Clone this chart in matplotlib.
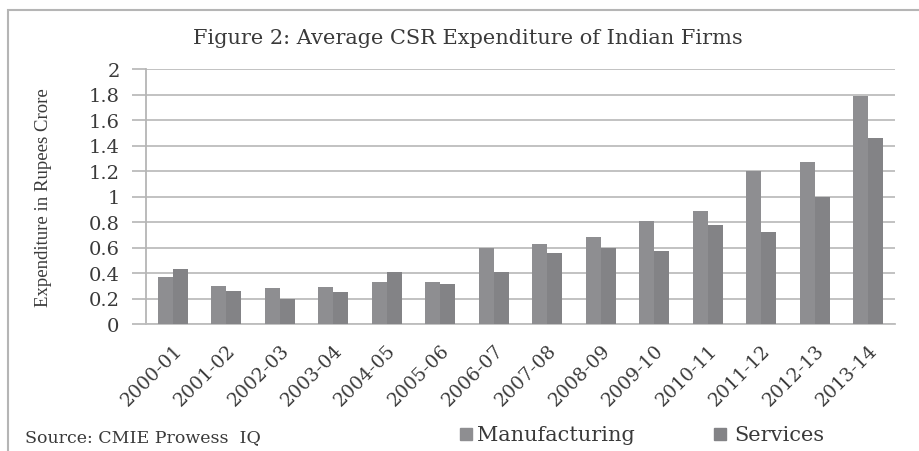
import numpy as np
import matplotlib
matplotlib.use('Agg')
import matplotlib.pyplot as plt
import matplotlib.patches as plp

years = ['2000-01', '2001-02', '2002-03', '2003-04', '2004-05', '2005-06', '2006-07',
         '2007-08', '2008-09', '2009-10', '2010-11', '2011-12', '2012-13', '2013-14']
manufacturing = [0.37, 0.30, 0.28, 0.29, 0.33, 0.33, 0.60, 0.63, 0.68, 0.81, 0.89, 1.20, 1.27, 1.79]
services = [0.43, 0.26, 0.20, 0.25, 0.41, 0.31, 0.41, 0.56, 0.60, 0.57, 0.78, 0.72, 1.00, 1.46]
yticks = [0, 0.2, 0.4, 0.6, 0.8, 1, 1.2, 1.4, 1.6, 1.8, 2]
yticklabels = ['0', '0.2', '0.4', '0.6', '0.8', '1', '1.2', '1.4', '1.6', '1.8', '2']

plt.rcParams['font.family'] = ['DejaVu Serif']
textColor = '#3a3a3a'
colM = '#8e8e91'
colS = '#838386'

fig = plt.figure(figsize=(9.2, 4.52), dpi=100)
W, H = 920.0, 452.0
# axes: x 146..895, y 70..325 (pixels from top)
ax = fig.add_axes([146 / W, 1 - 325 / H, (895 - 146) / W, (325 - 70) / H])

# outer frame of the figure box
frame = plp.Rectangle((8 / W, -0.1), 1.2, 1 - 11 / H + 0.1, transform=fig.transFigure,
                      fill=False, edgecolor='#b5b5b5', linewidth=1.5)
fig.patches.append(frame)

x = np.arange(len(years))
bw = 0.28
ax.bar(x - bw / 2, manufacturing, bw, color=colM, zorder=3)
ax.bar(x + bw / 2, services, bw, color=colS, zorder=3)

ax.set_xlim(-0.5, len(years) - 0.5)
ax.set_ylim(0, 2)
ax.set_yticks(yticks)
ax.set_yticklabels(yticklabels, fontsize=14, color=textColor)
ax.set_xticks(x)
ax.set_xticklabels(years, rotation=45, ha='right', rotation_mode='anchor', fontsize=13.5, color=textColor)
ax.tick_params(axis='x', length=0, pad=12)
ax.tick_params(axis='y', length=10, color='#b5b5b5', width=1.2, pad=9)

ax.grid(axis='y', color='#bdbdbd', linewidth=1.3, zorder=0)
for side in ['top', 'right']:
    ax.spines[side].set_visible(False)
ax.spines['left'].set_color('#b5b5b5')
ax.spines['bottom'].set_color('#bdbdbd')
ax.spines['left'].set_linewidth(1.3)
ax.spines['bottom'].set_linewidth(1.3)

ax.set_ylabel('Expenditure in Rupees Crore', fontsize=13.5, color=textColor, labelpad=26,
              family='Liberation Serif')

fig.text(468 / W, 1 - 38 / H, 'Figure 2: Average CSR Expenditure of Indian Firms',
         ha='center', va='center', fontsize=15, color=textColor)
fig.text(25 / W, 1 - 438 / H, 'Source: CMIE Prowess  IQ', ha='left', va='center',
         fontsize=12.5, color=textColor)

# legend squares and labels
fig.patches.append(plp.Rectangle((460 / W, 1 - 441 / H), 12 / W, 12 / H,
                                 transform=fig.transFigure, color=colM))
fig.text(477 / W, 1 - 436 / H, 'Manufacturing', ha='left', va='center', fontsize=15, color=textColor)
fig.patches.append(plp.Rectangle((714 / W, 1 - 441 / H), 12 / W, 12 / H,
                                 transform=fig.transFigure, color=colS))
fig.text(734 / W, 1 - 436 / H, 'Services', ha='left', va='center', fontsize=15, color=textColor)

fig.savefig('out.png', dpi=100, facecolor='white')
